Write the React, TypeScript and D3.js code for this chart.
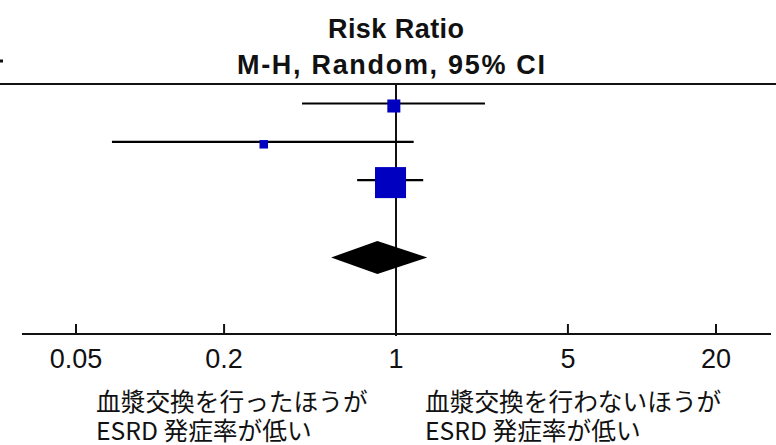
import React, { useEffect } from "react";
import * as d3 from "d3";

// Study-level risk ratios with 95% CI and random-effects weights (%)
const studyRR = [0.98, 0.29, 0.95];
const studyLow = [0.415, 0.07, 0.695];
const studyHigh = [2.3, 1.18, 1.29];
const studyWeight = [14.1, 6.0, 79.9];

// Pooled estimate
const pooledRR = 0.84;
const pooledLow = 0.545;
const pooledHigh = 1.34;

const tickValues = [0.05, 0.2, 1, 5, 20];
const tickLabels = ["0.05", "0.2", "1", "5", "20"];

const titleLines = ["Risk Ratio", "M-H, Random, 95% CI"];
const favoursLeft = ["血漿交換を行ったほうが", "ESRD 発症率が低い"];
const favoursRight = ["血漿交換を行わないほうが", "ESRD 発症率が低い"];

const W = 776;
const H = 445;

export default function App() {
  useEffect(() => {
    document.body.style.margin = "0";
  }, []);

  const x = d3.scaleLog().domain([0.05, 20]).range([76, 716]);
  const axisY = 334;
  const topY = 84;
  const rowY = d3.scaleLinear().domain([0, 1]).range([103.5, 141.8]);
  const diamondY = 257.5;
  const diamondHalfH = 16.5;
  const sizeK = 3.47;

  const sansFont = "'Liberation Sans', Arial, sans-serif";
  const cjkFont = "'Noto Sans CJK JP', 'Noto Sans', sans-serif";

  const diamond = d3.line<[number, number]>()([
    [x(pooledLow), diamondY],
    [x(pooledRR), diamondY - diamondHalfH],
    [x(pooledHigh), diamondY],
    [x(pooledRR), diamondY + diamondHalfH],
  ]) + "Z";

  const favours = (lines: string[], left: number, key: string) => (
    <text key={key} x={left} y={411} fontFamily={cjkFont} fontSize={24.7} fill="#111">
      {lines.map((s, i) => (
        <tspan key={i} x={left} dy={i === 0 ? 0 : 29}>
          {s}
        </tspan>
      ))}
    </text>
  );

  return (
    <svg
      width={W}
      height={H}
      style={{ position: "absolute", left: 0, top: 0, background: "#fff" }}
    >
      {/* heading */}
      <text
        x={x(1)}
        y={38}
        textAnchor="middle"
        fontFamily={sansFont}
        fontWeight="bold"
        fontSize={27}
        textLength={136}
        lengthAdjust="spacing"
        fill="#111"
      >
        {titleLines[0]}
      </text>
      <text
        x={391}
        y={74}
        textAnchor="middle"
        fontFamily={sansFont}
        fontWeight="bold"
        fontSize={27}
        textLength={308}
        lengthAdjust="spacing"
        fill="#111"
      >
        {titleLines[1]}
      </text>
      {/* fragment of the neighbouring column heading */}
      <rect x={0} y={59.5} width={3} height={3} fill="#111" />

      {/* header rule */}
      <line x1={0} x2={W} y1={topY} y2={topY} stroke="#111" strokeWidth={2} />

      {/* line of no effect */}
      <line x1={x(1)} x2={x(1)} y1={topY} y2={axisY + 2} stroke="#111" strokeWidth={2} />

      {/* studies */}
      {studyRR.map((rr, i) => {
        const y = rowY(i);
        const s = sizeK * Math.sqrt(studyWeight[i]);
        return (
          <g key={i}>
            <line
              x1={x(studyLow[i])}
              x2={x(studyHigh[i])}
              y1={y}
              y2={y}
              stroke="#000"
              strokeWidth={2.2}
            />
            <rect
              x={x(rr) - s / 2}
              y={y + 2.5 - s / 2}
              width={s}
              height={s}
              fill="#0000c0"
            />
          </g>
        );
      })}

      {/* pooled diamond */}
      <path d={diamond} fill="#000" />

      {/* axis */}
      <line x1={22} x2={771} y1={axisY} y2={axisY} stroke="#111" strokeWidth={2} />
      {tickValues.map((t, i) => (
        <g key={t}>
          <line x1={x(t)} x2={x(t)} y1={axisY - 10} y2={axisY} stroke="#111" strokeWidth={2} />
          <text
            x={x(t)}
            y={368}
            textAnchor="middle"
            fontFamily={sansFont}
            fontSize={27}
            fill="#111"
          >
            {tickLabels[i]}
          </text>
        </g>
      ))}

      {/* favours labels */}
      {favours(favoursLeft, 96, "left")}
      {favours(favoursRight, 425, "right")}
    </svg>
  );
}
